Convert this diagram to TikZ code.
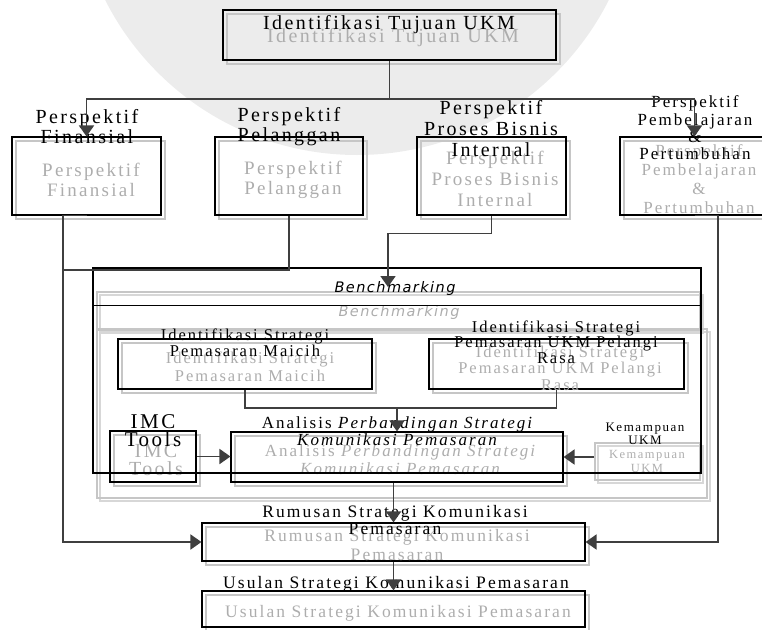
\documentclass[tikz,border=0pt]{standalone}
\usepackage{fontspec}
\setmainfont{Liberation Serif}
\newfontfamily\lsf[LetterSpace=12]{Liberation Serif}
\newfontfamily\bmf[LetterSpace=10]{DejaVu Sans}
\usetikzlibrary{arrows.meta,shadows,calc}
\definecolor{lnc}{HTML}{3F3F3F}
\definecolor{shc}{HTML}{C6C6C6}
\definecolor{gtx}{HTML}{ADADAD}
\definecolor{wm}{HTML}{ECECEC}
\begin{document}
\begin{tikzpicture}[x=1pt,y=-1pt,
  bx/.style={draw=black, line width=1.1pt, rectangle, inner sep=0pt,
    general shadow={shadow xshift=4pt, shadow yshift=-4pt, draw=shc, line width=1.6pt}},
  gb/.style={draw=shc, line width=1.6pt, rectangle, inner sep=0pt,
    general shadow={shadow xshift=3pt, shadow yshift=-3pt, draw=shc!70, line width=1.4pt}},
  bt/.style={align=center, inner sep=0pt, text=black},
  gt/.style={align=center, inner sep=0pt, text=gtx},
  ln/.style={draw=lnc, line width=1.8pt},
  arr/.style={ln, -{Triangle[length=11pt,width=15pt]}},
]
\useasboundingbox (0,0) rectangle (762,629);
\fill[wm] (357,-127) circle[radius=282pt];

% ghost boxes
\node[gb, minimum width=603pt, minimum height=38pt] (gstrip) at (398.5,311) {};
\node[gb, minimum width=610pt, minimum height=169pt] (gcont) at (402,413.5) {};
\node[gb, minimum width=105pt, minimum height=37pt] (kem) at (647.5,461.5) {};

% black boxes
\node[bx, minimum width=333pt, minimum height=50pt] (top) at (389.5,35) {};
\node[bx, minimum width=149pt, minimum height=78pt] (fin) at (86.5,176) {};
\node[bx, minimum width=148pt, minimum height=78pt] (pel) at (289,176) {};
\node[bx, minimum width=149pt, minimum height=78pt] (pro) at (491.5,176) {};
\node[bx, minimum width=149pt, minimum height=78pt] (pem) at (694.5,176) {};
\node[bx, minimum width=254pt, minimum height=50pt] (mai) at (245,364) {};
\node[bx, minimum width=255pt, minimum height=50pt] (pla) at (556.5,364) {};
\node[bx, minimum width=332pt, minimum height=50pt] (ana) at (397,457) {};
\node[bx, minimum width=86pt, minimum height=51pt] (imc) at (153,456.5) {};
\node[bx, minimum width=383pt, minimum height=38pt] (rum) at (393.5,542) {};
\node[bx, minimum width=383pt, minimum height=36pt] (usu) at (393.5,609) {};

% gray texts
\node[gt, font=\lsf\fontsize{20}{22}\selectfont] (gtop) at (393,38) {Identifikasi Tujuan UKM};
\node[gt, font=\lsf\fontsize{19}{20}\selectfont] (gfin) at (91,180) {Perspektif\\Finansial};
\node[gt, font=\lsf\fontsize{19}{20}\selectfont] (gpel) at (293,180) {Perspektif\\Pelanggan};
\node[gt, font=\lsf\fontsize{19}{21}\selectfont] (gpro) at (495,179) {Perspektif\\Proses Bisnis\\Internal};
\node[gt, font=\lsf\fontsize{17}{19}\selectfont] (gpem) at (699,179) {Perspektif\\Pembelajaran\\\&\\Pertumbuhan};
\node[gt, font=\bmf\itshape\fontsize{14.5}{16}\selectfont] (gbm) at (399,312) {Benchmarking};
\node[gt, font=\lsf\fontsize{16.5}{18}\selectfont] (gmai) at (250,367) {Identifikasi Strategi\\Pemasaran Maicih};
\node[gt, font=\lsf\fontsize{16.5}{16.5}\selectfont] (gpla) at (560,368) {Identifikasi Strategi\\Pemasaran UKM Pelangi\\Rasa};
\node[gt, font=\lsf\fontsize{17}{18}\selectfont] (gana) at (401,460) {Analisis \textit{Perbandingan Strategi}\\\textit{Komunikasi Pemasaran}};
\node[gt, font=\lsf\fontsize{20}{18}\selectfont] (gimc) at (156,460) {IMC\\Tools};
\node[gt, font=\lsf\fontsize{12.5}{14}\selectfont] (gkem) at (647,461) {Kemampuan\\UKM};
\node[gt, font=\lsf\fontsize{17.5}{19}\selectfont] (grum) at (397,545.5) {Rumusan Strategi Komunikasi\\Pemasaran};
\node[gt, font=\lsf\fontsize{17.5}{18}\selectfont] (gusu) at (398,613) {Usulan Strategi Komunikasi Pemasaran};

% benchmarking frame
\node[draw=black, line width=1.5pt, rectangle, inner sep=0pt, minimum width=608pt, minimum height=205pt] (bmo) at (397,370.5) {};
\draw[black, line width=1.5pt] ($(bmo.north west)+(0,38)$) -- ($(bmo.north east)+(0,38)$);

% black texts
\node[bt, font=\lsf\fontsize{20}{22}\selectfont] (ttop) at (389,25) {Identifikasi Tujuan UKM};
\node[bt, font=\lsf\fontsize{20}{20}\selectfont] (tfin) at (87,127) {Perspektif\\Finansial};
\node[bt, font=\lsf\fontsize{20}{20}\selectfont] (tpel) at (289,127) {Perspektif\\Pelanggan};
\node[bt, font=\lsf\fontsize{20}{21}\selectfont] (tpro) at (491,129) {Perspektif\\Proses Bisnis\\Internal};
\node[bt, font=\lsf\fontsize{17}{17.3}\selectfont] (tpem) at (695,128) {Perspektif\\Pembelajaran\\\&\\Pertumbuhan};
\node[bt, font=\bmf\itshape\fontsize{14.5}{16}\selectfont] (bmt) at (395,288) {Benchmarking};
\node[bt, font=\lsf\fontsize{16.5}{16}\selectfont] (tmai) at (245,343) {Identifikasi Strategi\\Pemasaran Maicih};
\node[bt, font=\lsf\fontsize{16.5}{15.5}\selectfont] (tpla) at (556,342) {Identifikasi Strategi\\Pemasaran UKM Pelangi\\Rasa};
\node[bt, font=\lsf\fontsize{17}{17}\selectfont] (tana) at (398,431.5) {Analisis \textit{Perbandingan Strategi}\\\textit{Komunikasi Pemasaran}};
\node[bt, font=\lsf\fontsize{21}{18}\selectfont] (timc) at (153,431) {IMC\\Tools};
\node[bt, font=\lsf\fontsize{13}{13}\selectfont] (tkem) at (645,433.5) {Kemampuan\\UKM};
\node[bt, font=\lsf\fontsize{17.5}{17}\selectfont] (trum) at (395,520.5) {Rumusan Strategi Komunikasi\\Pemasaran};
\node[bt, font=\lsf\fontsize{17.5}{17}\selectfont] (tusu) at (396,584) {Usulan Strategi Komunikasi Pemasaran};

% connectors
\coordinate (hj) at (389.5,99);
\coordinate (lj) at (63,270);
\coordinate (bmin) at (388,287);
\coordinate (mj) at (397,408);
\draw[ln] (top.south) -- (hj);
\draw[arr] (hj) -| (fin.north);
\draw[arr] (hj) -| (pem.north);
\draw[arr] (fin.south) -- ++(-23.5,0) |- (rum.west);
\draw[ln] (pel.south) |- (lj);
\draw[arr] (pro.south) |- ++(-103.5,18) -- (bmin);
\draw[arr] (pem.south) -- ++(23.5,0) |- (rum.east);
\draw[ln] (mai.south) |- (mj) -| (pla.south);
\draw[arr] (mj) -- (ana.north);
\draw[arr] (imc.east) -- (imc.east -| ana.west);
\draw[arr] (kem.west |- ana.east) -- (ana.east);
\draw[arr] (ana.south -| rum.north) -- (rum.north);
\draw[arr] (rum.south) -- (usu.north);
\end{tikzpicture}
\end{document}
